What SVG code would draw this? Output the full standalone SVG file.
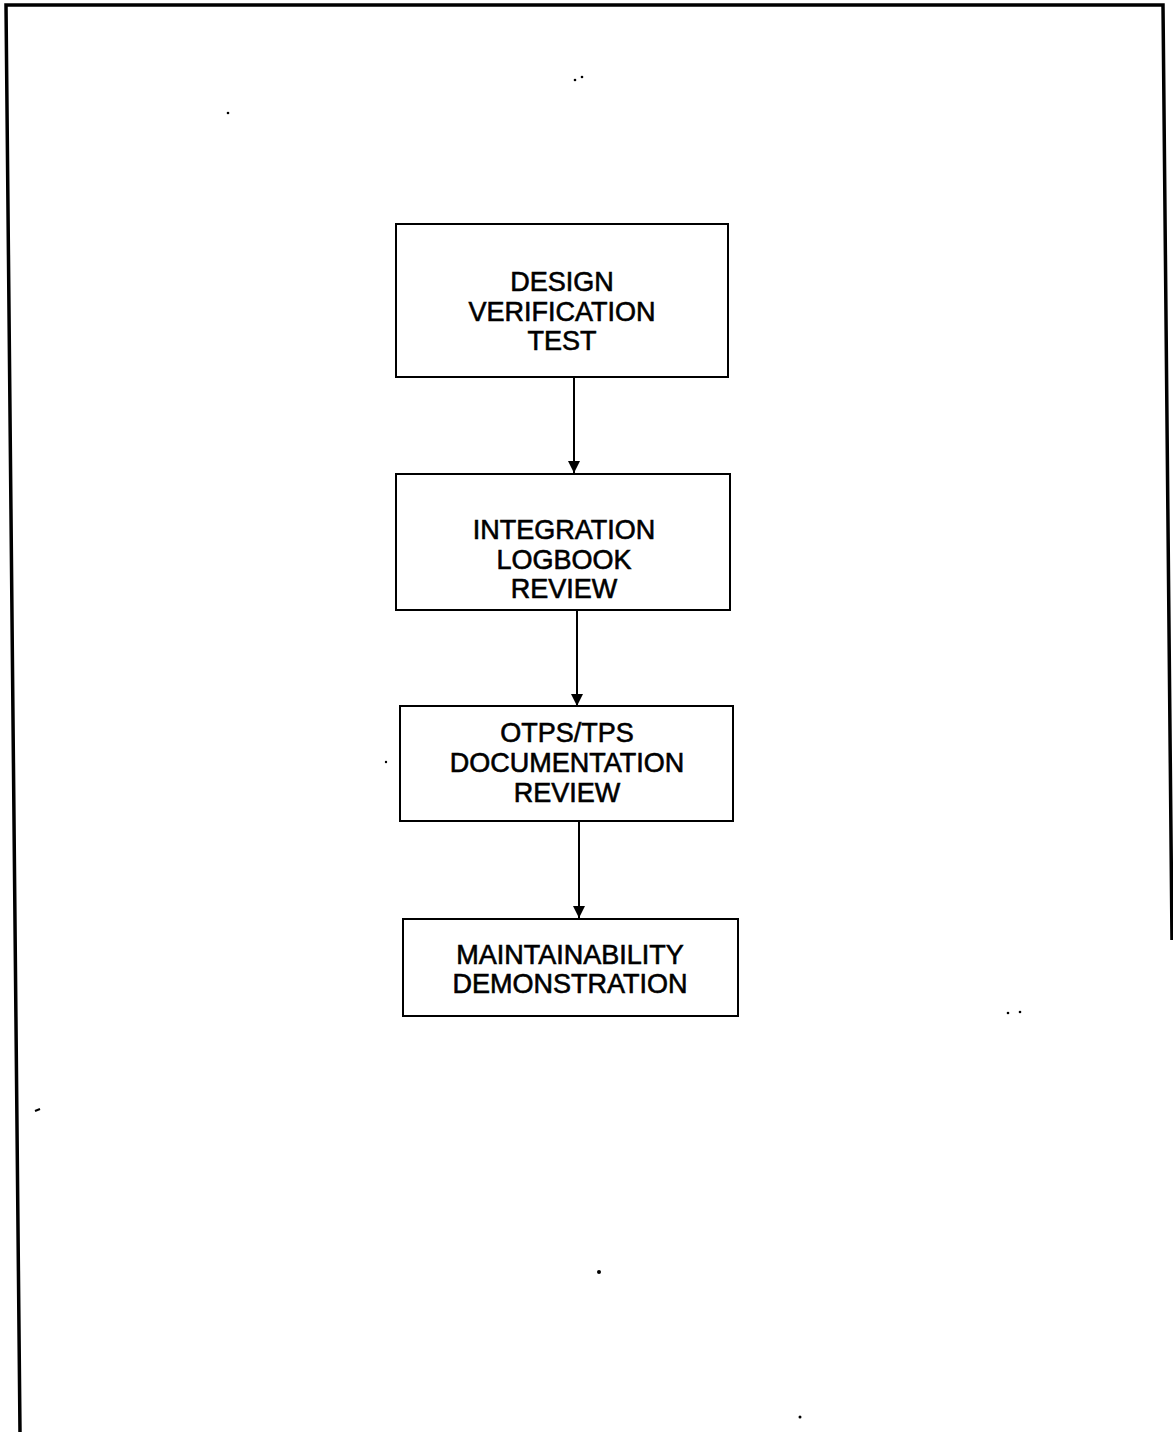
<svg xmlns="http://www.w3.org/2000/svg" width="1173" height="1432" viewBox="0 0 1173 1432">
  <style>
    .box { fill: #fff; stroke: #000; stroke-width: 2; }
    .lbl { font-family: "Liberation Sans", Arial, sans-serif; font-size: 27px; fill: #000; stroke: #000; stroke-width: 0.6; text-anchor: middle; }
    .conn { stroke: #000; stroke-width: 2; fill: none; }
    .frame { stroke: #000; stroke-width: 3.5; fill: none; }
    .speck { fill: #000; }
  </style>
  <defs>
    <marker id="arrow" viewBox="0 0 10 10" refX="10" refY="5" markerWidth="6" markerHeight="6" markerUnits="strokeWidth" orient="auto">
      <path d="M0,0 L10,5 L0,10 Z" fill="#000"/>
    </marker>
  </defs>
  <rect width="1173" height="1432" fill="#fff"/>

  <!-- page frame -->
  <polyline class="frame" points="20,1432 6,5 1163,5 1172,940"/>

  <!-- small marks -->
  <g id="marks">
    <circle class="speck" cx="575" cy="80" r="1.3"/>
    <circle class="speck" cx="582" cy="77" r="1.3"/>
    <circle class="speck" cx="228" cy="113" r="1.3"/>
    <circle class="speck" cx="386" cy="762" r="1.2"/>
    <circle class="speck" cx="1008" cy="1013" r="1.3"/>
    <circle class="speck" cx="1020" cy="1012" r="1.3"/>
    <path class="conn" d="M35,1111 L40,1109" stroke-width="1.5"/>
    <circle class="speck" cx="599" cy="1272" r="2"/>
    <circle class="speck" cx="800" cy="1417" r="1.5"/>
  </g>

  <!-- connectors -->
  <g id="connectors">
    <line class="conn" x1="574" y1="377" x2="574" y2="473" marker-end="url(#arrow)"/>
    <line class="conn" x1="577" y1="611" x2="577" y2="706" marker-end="url(#arrow)"/>
    <line class="conn" x1="579" y1="821" x2="579" y2="918" marker-end="url(#arrow)"/>
  </g>

  <g id="node-dvt">
    <rect class="box" x="396" y="224" width="332" height="153"/>
    <text class="lbl" x="562" y="291">DESIGN</text>
    <text class="lbl" x="562" y="321">VERIFICATION</text>
    <text class="lbl" x="562" y="350">TEST</text>
  </g>

  <g id="node-ilr">
    <rect class="box" x="396" y="474" width="334" height="136"/>
    <text class="lbl" x="564" y="539">INTEGRATION</text>
    <text class="lbl" x="564" y="569">LOGBOOK</text>
    <text class="lbl" x="564" y="598">REVIEW</text>
  </g>

  <g id="node-otps">
    <rect class="box" x="400" y="706" width="333" height="115"/>
    <text class="lbl" x="567" y="742">OTPS/TPS</text>
    <text class="lbl" x="567" y="772">DOCUMENTATION</text>
    <text class="lbl" x="567" y="802">REVIEW</text>
  </g>

  <g id="node-md">
    <rect class="box" x="403" y="919" width="335" height="97"/>
    <text class="lbl" x="570" y="964">MAINTAINABILITY</text>
    <text class="lbl" x="570" y="993">DEMONSTRATION</text>
  </g>
</svg>
